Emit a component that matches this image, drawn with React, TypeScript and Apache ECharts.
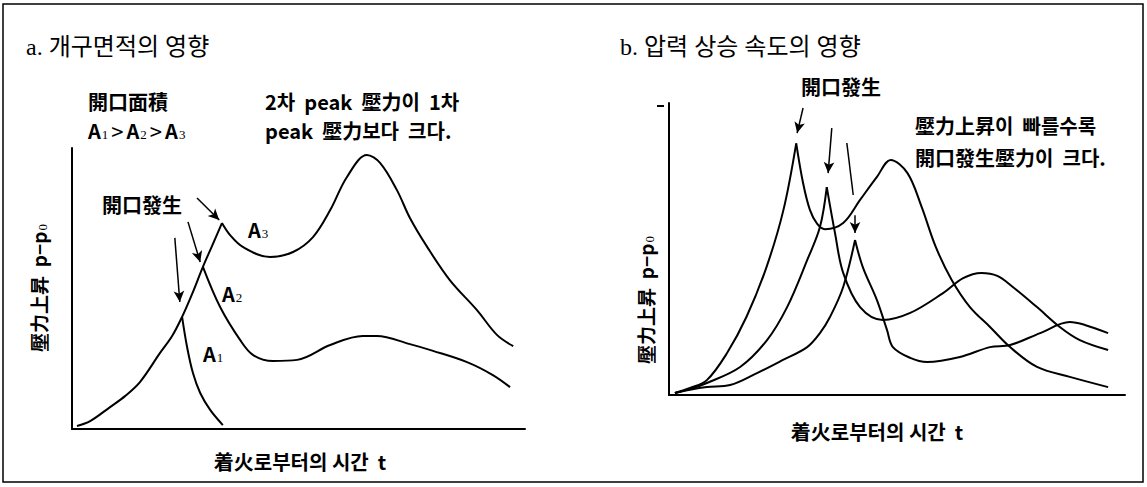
import React, { useEffect, useRef } from "react";
import * as echarts from "echarts";

// ---------- data (relative units: t 0..100, p 0..100) ----------
// panel a: influence of vent area
const riseA = [[1.1, 1.1], [4.0, 2.8], [8.4, 7.8], [11.7, 11.7], [15.0, 16.7], [19.4, 27.0], [22.1, 33.1], [24.3, 39.9], [26.5, 48.0], [28.9, 57.7], [30.9, 65.1], [33.1, 73.3]];
const branchA1 = [[24.3, 39.9], [25.4, 29.2], [26.7, 19.9], [28.3, 12.8], [30.5, 6.8], [33.3, 1.4]];
const branchA2 = [[28.9, 57.7], [32.7, 43.4], [37.1, 31.7], [40.0, 26.3], [44.4, 24.2], [49.7, 24.6], [57.0, 29.9], [64.2, 33.1], [67.3, 33.1], [74.6, 30.2], [79.7, 27.8], [87.2, 23.8], [92.9, 19.2], [96.7, 14.9]];
const branchA3 = [[33.1, 73.3], [34.9, 69.0], [37.7, 64.8], [43.7, 61.2], [48.8, 63.0], [53.2, 68.3], [57.0, 77.9], [60.7, 89.7], [65.1, 97.5], [68.0, 94.7], [71.7, 85.1], [74.6, 75.1], [78.4, 64.8], [83.4, 53.0], [89.4, 42.3], [93.8, 33.5], [97.4, 29.5]];
const arrowsA = [
  [[27.6, 82.2], [32.5, 74.4]],
  [[25.6, 73.7], [28.3, 59.4]],
  [[22.7, 68.0], [23.8, 45.2]],
];

// panel b: influence of pressure rise rate
const riseF = [[1.3, 0.7], [4.6, 2.4], [8.3, 5.1], [12.7, 14.3], [17.0, 26.8], [21.4, 43.9], [25.1, 63.4], [27.9, 86.2]];
const fallF = [[27.9, 86.2], [29.4, 72.6], [30.9, 63.4], [32.5, 58.6], [34.2, 56.8], [38.2, 58.9], [41.9, 66.8], [45.6, 74.7], [48.6, 80.5], [52.3, 76.0], [55.4, 64.4], [58.5, 50.7], [62.0, 39.4], [66.0, 30.1], [70.4, 23.3], [74.8, 16.4], [80.7, 9.6], [87.9, 6.2], [96.3, 2.7]];
const riseM = [[1.3, 0.7], [4.6, 2.0], [8.3, 4.1], [15.6, 9.6], [21.5, 18.8], [25.9, 30.1], [30.3, 46.2], [33.1, 57.5], [34.6, 71.2]];
const fallM = [[34.6, 71.2], [36.4, 55.5], [38.2, 41.8], [41.9, 30.1], [46.9, 25.7], [52.9, 28.1], [60.1, 34.9], [64.5, 40.0], [68.5, 41.8], [72.0, 40.8], [75.4, 37.0], [80.7, 30.1], [85.7, 23.3], [90.1, 18.8], [96.3, 15.4]];
const riseS = [[1.3, 0.7], [4.6, 1.8], [8.3, 2.7], [13.4, 3.4], [19.3, 7.5], [25.0, 12.0], [30.3, 16.4], [33.1, 21.2], [35.3, 26.7], [38.2, 37.0], [40.8, 53.1]];
const fallS = [[40.8, 53.1], [42.5, 43.8], [45.6, 32.5], [47.8, 22.3], [49.1, 16.4], [52.9, 12.7], [56.6, 11.3], [63.8, 13.0], [70.4, 16.4], [74.8, 17.1], [81.4, 21.2], [87.9, 25.0], [91.2, 24.0], [96.3, 21.2]];
const arrowsB = [
  [[29.4, 98.3], [28.1, 89.7]],
  [[35.7, 91.4], [34.9, 76.0]],
  [[40.8, 61.6], [40.8, 55.5]],
];
const plainLinesB = [[[39.0, 86.3], [40.4, 68.5]]];

// ---------- texts ----------
const titleA = "a. 개구면적의 영향";
const titleB = "b. 압력 상승 속도의 영향";
const noteA1 = "開口面積";
const noteA2 = "{a|A}{s|1}{g|>}{a|A}{s|2}{g|>}{a|A}{s|3}";
const noteA3 = "2차  peak  壓力이  1차";
const noteA4 = "peak  壓力보다  크다.";
const ventLabel = "開口發生";
const noteB1 = "壓力上昇이  빠를수록";
const noteB2 = "開口發生壓力이  크다.";
const yLabel = "{y|壓力上昇  p−p}{s|0}";
const xLabel = "着火로부터의 시간  t";

const SANS = '"Noto Sans CJK KR", "Noto Sans", sans-serif';
const SERIF = '"Liberation Serif", "Noto Sans CJK KR", serif';

const richBase = {
  a: { fontSize: 20, fontWeight: "bold", fontFamily: SANS, fill: "#000", lineHeight: 22 },
  y: { fontSize: 19, fontWeight: "bold", fontFamily: SANS, fill: "#000", lineHeight: 22 },
  s: { fontSize: 13, fontWeight: "normal", fontFamily: SERIF, fill: "#000", lineHeight: 22, verticalAlign: "bottom", padding: [6, 0, 0, 1] },
  g: { fontSize: 22, fontWeight: "normal", fontFamily: SANS, fill: "#000", lineHeight: 22, padding: [0, 3, 0, 3] },
};

function txt(x: number, y: number, text: string, size: number, opts: any = {}) {
  return {
    type: "text",
    x,
    y,
    rotation: opts.rotation || 0,
    silent: true,
    style: {
      text,
      fill: "#000",
      fontSize: size,
      fontWeight: opts.weight || "bold",
      fontFamily: opts.family || SANS,
      textAlign: opts.align || "left",
      textVerticalAlign: "middle",
      rich: opts.rich,
    },
  };
}

const lineStyle = { color: "#000", width: 2 };

function curve(data: number[][], idx: number, marks?: any) {
  return {
    type: "line",
    xAxisIndex: idx,
    yAxisIndex: idx,
    data,
    smooth: 0.35,
    showSymbol: false,
    lineStyle,
    emphasis: { disabled: true },
    silent: true,
    markLine: marks,
  };
}

function arrowMarks(list: number[][][], plain: number[][][] = []) {
  return {
    silent: true,
    symbol: ["none", "arrow"],
    symbolSize: [8, 11],
    lineStyle: { color: "#000", width: 1.5, type: "solid" },
    label: { show: false },
    emphasis: { disabled: true },
    data: [
      ...list.map((p) => [{ coord: p[0] }, { coord: p[1] }]),
      ...plain.map((p) => [{ coord: p[0], symbol: "none" }, { coord: p[1], symbol: "none" }]),
    ],
  };
}

function axis(idx: number) {
  return {
    gridIndex: idx,
    type: "value",
    min: 0,
    max: 100,
    axisLine: { show: true, onZero: false, lineStyle: { color: "#000", width: 2 } },
    axisTick: { show: false },
    axisLabel: { show: false },
    splitLine: { show: false },
  };
}

const option: any = {
  animation: false,
  backgroundColor: "#fff",
  grid: [
    { left: 72, top: 148, width: 453, height: 281, outerBoundsMode: "none" },
    { left: 669, top: 103, width: 456, height: 292, outerBoundsMode: "none" },
  ],
  xAxis: [axis(0), axis(1)],
  yAxis: [axis(0), axis(1)],
  series: [
    curve(riseA, 0, arrowMarks(arrowsA)),
    curve(branchA1, 0),
    curve(branchA2, 0),
    curve(branchA3, 0),
    curve(riseF, 1, arrowMarks(arrowsB, plainLinesB)),
    curve(fallF, 1),
    curve(riseM, 1),
    curve(fallM, 1),
    curve(riseS, 1),
    curve(fallS, 1),
  ],
  graphic: [
    { type: "rect", silent: true, shape: { x: 3, y: 4, width: 1140, height: 478 }, style: { fill: "none", stroke: "#000", lineWidth: 1.5 } },
    { type: "line", silent: true, shape: { x1: 657, y1: 106, x2: 664, y2: 106 }, style: { stroke: "#000", lineWidth: 2 } },
    txt(26, 47, titleA, 24, { weight: "normal", family: SERIF }),
    txt(620, 47, titleB, 24, { weight: "normal", family: SERIF }),
    txt(88, 101, noteA1, 20),
    txt(88, 130, noteA2, 20, { rich: richBase }),
    txt(265, 101, noteA3, 20),
    txt(265, 130, noteA4, 20),
    txt(102, 204, ventLabel, 20),
    txt(248, 229, "{a|A}{s|3}", 20, { rich: richBase }),
    txt(222, 293, "{a|A}{s|2}", 20, { rich: richBase }),
    txt(203, 353, "{a|A}{s|1}", 20, { rich: richBase }),
    txt(38, 288, yLabel, 19, { rotation: Math.PI / 2, align: "center", rich: richBase }),
    txt(300, 461, xLabel, 20, { align: "center" }),
    txt(801, 86, ventLabel, 20),
    txt(915, 125, noteB1, 20),
    txt(915, 157, noteB2, 20),
    txt(645, 300, yLabel, 19, { rotation: Math.PI / 2, align: "center", rich: richBase }),
    txt(877, 431, xLabel, 20, { align: "center" }),
  ],
};

export default function App() {
  const ref = useRef<HTMLDivElement>(null);
  useEffect(() => {
    const chart = echarts.init(ref.current as HTMLDivElement, null, { renderer: "svg" });
    chart.setOption(option);
    return () => chart.dispose();
  }, []);
  return (
    <div
      ref={ref}
      style={{ position: "fixed", left: 0, top: 0, width: 1147, height: 487, background: "#fff" }}
    />
  );
}
